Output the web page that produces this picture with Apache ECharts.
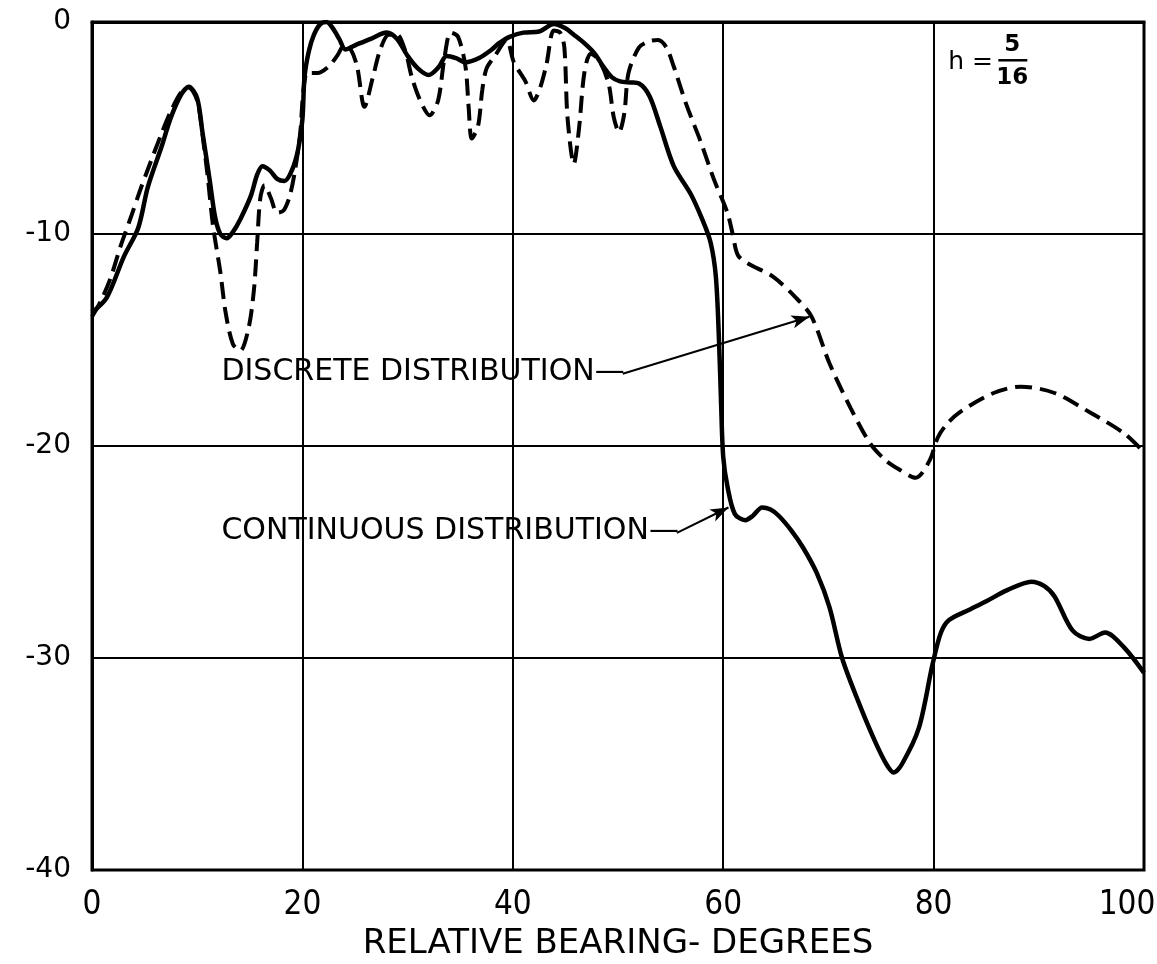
<!DOCTYPE html>
<html><head><meta charset="utf-8">
<script src="https://cdn.jsdelivr.net/npm/echarts@6/dist/echarts.min.js"></script>
<style>html,body{margin:0;padding:0;background:#fff}#c{width:1157px;height:964px}</style>
</head><body><div id="c"></div>
<script>
// ---- data ----
const xTicks = [0, 20, 40, 60, 80, 100];
const yTicks = [0, -10, -20, -30, -40];
const xTitle = 'RELATIVE BEARING- DEGREES';

const contX = [0,1.4,3,4.4,5.3,6.6,7.5,8.5,9.2,10,10.5,11.2,11.7,12.2,12.8,13.4,14.1,15.1,15.7,16.2,16.9,17.6,18.3,19.0,19.6,20.0,20.2,20.6,21.1,21.7,22.3,22.9,23.5,24.1,25,26.5,28,29,30,31,32,33,33.7,34.6,35.5,36.8,38,38.7,39.7,41,42.5,43.9,45,45.8,46.8,47.8,48.6,49.4,50.2,51.2,52,53,54,55.3,56.9,58,58.8,59.3,59.6,59.8,60,60.4,61.1,62.1,62.8,63.7,64.5,65.3,66.5,67.6,68.9,70.1,71.3,72.8,74.4,75.5,76.2,77,78.6,79.9,80.7,81.5,83.5,85.1,87,89.3,90.5,91.5,93.2,94.8,96.3,98.1,100];
const contY = [-13.7,-13.0,-11.1,-9.7,-7.8,-5.9,-4.5,-3.4,-3.05,-3.6,-5.2,-7.5,-9.2,-10.0,-10.2,-9.9,-9.3,-8.2,-7.2,-6.8,-7.0,-7.4,-7.5,-7.0,-6.0,-4.6,-2.6,-1.4,-0.6,-0.1,0,-0.3,-0.8,-1.3,-1.1,-0.8,-0.5,-0.8,-1.6,-2.2,-2.5,-2.1,-1.6,-1.7,-1.9,-1.7,-1.3,-1.0,-0.7,-0.5,-0.45,-0.1,-0.3,-0.6,-1.0,-1.5,-2.1,-2.6,-2.8,-2.85,-2.9,-3.5,-4.9,-6.8,-8.1,-9.3,-10.4,-12.0,-15.0,-18.0,-20.5,-21.9,-23.2,-23.5,-23.3,-22.9,-23.0,-23.3,-24.0,-24.8,-26.0,-27.6,-30.0,-32.0,-33.9,-35.0,-35.4,-35.0,-33.3,-30.3,-28.8,-28.2,-27.7,-27.3,-26.8,-26.4,-26.6,-27.1,-28.7,-29.1,-28.8,-29.5,-30.7];

const discX = [0,0.8,1.75,2.7,3.7,4.6,5.5,6.5,7.5,8.5,9.2,10,10.5,11.0,11.5,12.2,12.7,13.4,14.1,14.9,15.4,15.7,16.0,16.4,17.0,17.6,18.2,18.8,19.3,19.8,20.1,20.5,21.5,22.5,23.3,24,24.6,25.2,25.9,26.7,27.4,28.2,29,29.8,30.4,31.2,32.1,32.9,33.5,34.1,34.8,35.5,35.8,36.1,36.7,37.1,37.5,38.3,39.4,40.1,41.2,42,42.6,43.2,43.9,44.5,44.9,45.2,45.8,46.3,46.8,47.4,48.2,49.1,49.6,50.1,50.6,51,52,53,53.8,54.6,55.3,56.5,57.9,59.1,60.4,60.9,61.4,62.4,64.7,66.9,68.4,70.1,72.1,74,75.5,76.7,78.3,79.6,80.4,81.2,82.5,85.7,88.3,91.5,94.8,98.1,100];
const discY = [-13.9,-13.2,-12.1,-10.6,-9.2,-7.9,-6.7,-5.4,-4.2,-3.3,-3.1,-3.7,-5.3,-7.3,-9.6,-11.8,-13.7,-15.2,-15.5,-14.4,-12.6,-10.4,-8.3,-7.7,-8.3,-9.0,-8.9,-8.2,-7.0,-5.2,-3.2,-2.4,-2.4,-2.1,-1.6,-1.1,-1.3,-2.1,-4.0,-2.6,-1.3,-0.6,-0.6,-1.4,-2.6,-3.7,-4.4,-3.7,-1.7,-0.5,-0.7,-2.1,-4.0,-5.5,-4.9,-3.2,-2.2,-1.6,-0.85,-1.9,-2.8,-3.7,-3.1,-2.0,-0.4,-0.5,-1.2,-4.5,-6.7,-5.0,-2.4,-1.5,-1.8,-2.9,-4.5,-5.2,-4.3,-2.4,-1.2,-0.9,-0.85,-1.2,-2.1,-3.9,-5.7,-7.4,-9.0,-10.0,-11.0,-11.4,-12.0,-13.0,-13.9,-16.1,-18.2,-19.9,-20.7,-21.1,-21.5,-20.7,-19.6,-19.0,-18.4,-17.5,-17.2,-17.5,-18.4,-19.4,-20.3];

// annotation anchors (data coordinates)
const discreteLabel = 'DISCRETE DISTRIBUTION—';
const discreteLabelAt = [12.3, -16.5];
const discreteArrowTip = [68.2, -13.9];
const continuousLabel = 'CONTINUOUS DISTRIBUTION—';
const continuousLabelAt = [12.3, -24.0];
const continuousArrowTip = [60.5, -22.9];
const paramLabelAt = [81.4, -1.9];
const fracNum = '5', fracDen = '16';

// ---- chart ----
const FONT = '"DejaVu Sans", sans-serif';
const NARROW = '"Liberation Sans Narrow", "DejaVu Sans Condensed", "DejaVu Sans", sans-serif';
const chart = echarts.init(document.getElementById('c'), null, {renderer: 'canvas'});
const pairs = (xs, ys) => xs.map((x, i) => [x, ys[i]]);
const xMax = xTicks[xTicks.length - 1];

const baseOption = {
  animation: false,
  backgroundColor: '#fff',
  grid: {left: 92, right: 13, top: 22, bottom: 94, containLabel: false, outerBoundsMode: 'none',
         show: true, borderColor: '#000', borderWidth: 3},
  xAxis: {
    type: 'value', min: xTicks[0], max: xMax, interval: xTicks[1] - xTicks[0],
    axisLine: {show: true, lineStyle: {color: '#000', width: 3}},
    axisTick: {show: false},
    axisLabel: {color: '#000', fontSize: 33, fontFamily: NARROW, margin: 19,
      formatter: v => v === xMax ? '{last|' + v + '}' : String(v),
      rich: {last: {fontSize: 33, fontFamily: NARROW, color: '#000', padding: [0, 34, 0, 0]}}},
    splitLine: {show: true, lineStyle: {color: '#000', width: 2}},
    name: xTitle, nameLocation: 'middle', nameGap: 54,
    nameTextStyle: {color: '#000', fontSize: 34, fontFamily: FONT}
  },
  yAxis: {
    type: 'value', min: yTicks[yTicks.length - 1], max: yTicks[0], interval: yTicks[0] - yTicks[1],
    axisLine: {show: true, lineStyle: {color: '#000', width: 3}},
    axisTick: {show: false},
    axisLabel: {color: '#000', fontSize: 28, fontFamily: FONT, margin: 21},
    splitLine: {show: true, lineStyle: {color: '#000', width: 2}}
  },
  series: [
    {name: 'CONTINUOUS DISTRIBUTION', type: 'line', data: pairs(contX, contY), showSymbol: false,
     smooth: 0.3, lineStyle: {color: '#000', width: 4.5}, z: 5},
    {name: 'DISCRETE DISTRIBUTION', type: 'line', data: pairs(discX, discY), showSymbol: false,
     smooth: 0.3, lineStyle: {color: '#000', width: 4, type: [17, 8]}, z: 4},
    {name: 'arrows', type: 'line', data: [], silent: true}
  ]
};
chart.setOption(baseOption);

const px = p => chart.convertToPixel({gridIndex: 0}, p);
const toData = p => chart.convertFromPixel({gridIndex: 0}, p);
const LABEL_FONT_SIZE = 30;
const ctx = document.createElement('canvas').getContext('2d');
ctx.font = LABEL_FONT_SIZE + 'px ' + FONT;
const pd = px(discreteLabelAt), pc = px(continuousLabelAt), ph = px(paramLabelAt);
const dEnd = toData([pd[0] + ctx.measureText(discreteLabel).width - 2, pd[1] + 2]);
const cEnd = toData([pc[0] + ctx.measureText(continuousLabel).width - 2, pc[1] + 2]);

const txt = {fill: '#000', fontFamily: FONT, fontSize: LABEL_FONT_SIZE, textVerticalAlign: 'middle'};
chart.setOption({
  series: [{}, {}, {
    name: 'arrows',
    markLine: {silent: true, symbol: ['none', 'arrow'], symbolSize: [10, 18], label: {show: false},
      lineStyle: {color: '#000', width: 2, type: 'solid'},
      data: [
        [{coord: dEnd}, {coord: discreteArrowTip}],
        [{coord: cEnd}, {coord: continuousArrowTip}]
      ]}
  }],
  graphic: [
    {type: 'text', x: pd[0], y: pd[1], style: Object.assign({text: discreteLabel, textAlign: 'left'}, txt)},
    {type: 'text', x: pc[0], y: pc[1], style: Object.assign({text: continuousLabel, textAlign: 'left'}, txt)},
    {type: 'text', x: ph[0], y: ph[1], style: Object.assign({}, txt, {text: 'h =', textAlign: 'left', fontSize: 25})},
    {type: 'text', x: ph[0] + 64, y: ph[1] - 17, style: Object.assign({}, txt, {text: fracNum, textAlign: 'center', fontSize: 23, fontWeight: 'bold'})},
    {type: 'line', shape: {x1: ph[0] + 50, y1: ph[1] - 2, x2: ph[0] + 79, y2: ph[1] - 2}, style: {stroke: '#000', lineWidth: 2.5}},
    {type: 'text', x: ph[0] + 64, y: ph[1] + 16, style: Object.assign({}, txt, {text: fracDen, textAlign: 'center', fontSize: 23, fontWeight: 'bold'})}
  ]
});
</script>
</body></html>
